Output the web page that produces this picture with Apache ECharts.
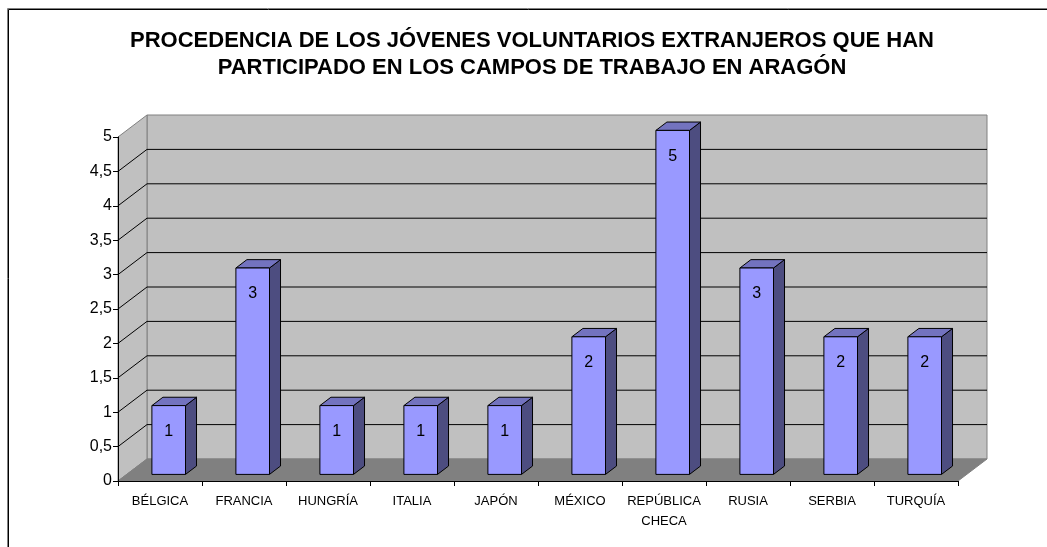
<!DOCTYPE html>
<html>
<head>
<meta charset="utf-8">
<script src="https://cdn.jsdelivr.net/npm/echarts@6/dist/echarts.min.js"></script>
<style>
  html, body { margin: 0; padding: 0; background: #fff; }
  #chart { width: 1047px; height: 547px; }
</style>
</head>
<body>
<div id="chart"></div>
<script>
// datos del gráfico
const categories = ['BÉLGICA', 'FRANCIA', 'HUNGRÍA', 'ITALIA', 'JAPÓN', 'MÉXICO', 'REPÚBLICA\nCHECA', 'RUSIA', 'SERBIA', 'TURQUÍA'];
const values = [1, 3, 1, 1, 1, 2, 5, 3, 2, 2];
const yTicks = [0, 0.5, 1, 1.5, 2, 2.5, 3, 3.5, 4, 4.5, 5];
const titleLines = ['PROCEDENCIA DE LOS JÓVENES VOLUNTARIOS EXTRANJEROS QUE HAN', 'PARTICIPADO EN LOS CAMPOS DE TRABAJO EN ARAGÓN'];

// profundidad del efecto 3D (px)
const DX = 29;
const DY = -22;
const T0 = 0.3;   // cara frontal de la barra
const T1 = 0.68;  // cara trasera
const FONT = 'Arial, "Liberation Sans", sans-serif';

const chart = echarts.init(document.getElementById('chart'));

// paredes, suelo y líneas de división
function renderWalls(params, api) {
  const n = categories.length;
  const bw = api.size([1, 0])[0];
  const left = api.coord([0, 0])[0] - bw / 2;
  const right = api.coord([n - 1, 0])[0] + bw / 2;
  const y0 = api.coord([0, yTicks[0]])[1];
  const yTop = api.coord([0, yTicks[yTicks.length - 1]])[1];
  const children = [];
  // pared trasera
  children.push({
    type: 'polygon',
    shape: { points: [[left + DX, yTop + DY], [right + DX, yTop + DY], [right + DX, y0 + DY], [left + DX, y0 + DY]] },
    style: { fill: '#c0c0c0', stroke: '#808080', lineWidth: 1 }
  });
  // pared lateral
  children.push({
    type: 'polygon',
    shape: { points: [[left, yTop], [left + DX, yTop + DY], [left + DX, y0 + DY], [left, y0]] },
    style: { fill: '#c0c0c0', stroke: '#808080', lineWidth: 1 }
  });
  // suelo
  children.push({
    type: 'polygon',
    shape: { points: [[left, y0], [right, y0], [right + DX, y0 + DY], [left + DX, y0 + DY]] },
    style: { fill: '#808080', stroke: '#808080', lineWidth: 1 }
  });
  for (let i = 1; i < yTicks.length - 1; i++) {
    const y = api.coord([0, yTicks[i]])[1];
    children.push({
      type: 'polyline',
      shape: { points: [[left, y], [left + DX, y + DY], [right + DX, y + DY]] },
      style: { stroke: '#000', lineWidth: 1, fill: null }
    });
  }
  return { type: 'group', children: children };
}

// barras 3D
function renderBar(params, api) {
  const idx = api.value(0);
  const base = api.coord([idx, 0]);
  const top = api.coord([idx, api.value(1)]);
  const bw = api.size([1, 0])[0];
  const half = bw * 0.2;
  const fx = DX * T0, fy = DY * T0;
  const ddx = DX * (T1 - T0), ddy = DY * (T1 - T0);
  const x0 = base[0] - half + fx;
  const x1 = base[0] + half + fx;
  const yb = base[1] + fy;
  const yt = top[1] + fy;
  return {
    type: 'group',
    children: [
      {
        type: 'polygon',
        shape: { points: [[x1, yt], [x1 + ddx, yt + ddy], [x1 + ddx, yb + ddy], [x1, yb]] },
        style: { fill: '#4d4d80', stroke: '#000', lineWidth: 1 }
      },
      {
        type: 'polygon',
        shape: { points: [[x0, yt], [x1, yt], [x1 + ddx, yt + ddy], [x0 + ddx, yt + ddy]] },
        style: { fill: '#7373bf', stroke: '#000', lineWidth: 1 }
      },
      {
        type: 'rect',
        shape: { x: x0, y: yt, width: x1 - x0, height: yb - yt },
        style: { fill: '#9999ff', stroke: '#000', lineWidth: 1 }
      },
      {
        type: 'text',
        x: (x0 + x1) / 2,
        y: yt + 26,
        style: {
          text: String(api.value(1)),
          fill: '#000',
          font: '16px ' + FONT,
          align: 'center',
          verticalAlign: 'middle'
        }
      }
    ]
  };
}

const option = {
  backgroundColor: '#fff',
  animation: false,
  title: {
    text: titleLines.join('\n'),
    left: 532,
    top: 27,
    padding: 0,
    textAlign: 'center',
    textStyle: {
      fontFamily: FONT,
      fontWeight: 'bold',
      fontSize: 22,
      lineHeight: 27,
      color: '#000'
    }
  },
  graphic: [
    {
      type: 'rect',
      shape: { x: 7.5, y: 8.5, width: 1100, height: 600 },
      style: { fill: null, stroke: '#808080', lineWidth: 1 },
      z: 100
    },
    {
      type: 'rect',
      shape: { x: 8.5, y: 9.5, width: 1100, height: 600 },
      style: { fill: null, stroke: '#000', lineWidth: 1 },
      z: 100
    }
  ],
  grid: {
    left: 118,
    right: 89,
    top: 137,
    bottom: 66
  },
  xAxis: {
    type: 'category',
    data: categories,
    boundaryGap: true,
    axisLine: { show: true, lineStyle: { color: '#000', width: 1 } },
    axisTick: { show: true, interval: 0, length: 5, alignWithLabel: false, lineStyle: { color: '#000' } },
    axisLabel: {
      interval: 0,
      margin: 10,
      color: '#000',
      fontFamily: FONT,
      fontSize: 13,
      lineHeight: 20
    },
    splitLine: { show: false },
    z: 10
  },
  yAxis: {
    type: 'value',
    min: yTicks[0],
    max: yTicks[yTicks.length - 1],
    interval: 0.5,
    axisLine: { show: true, lineStyle: { color: '#000', width: 1 } },
    axisTick: { show: true, length: 5, lineStyle: { color: '#000' } },
    axisLabel: {
      margin: 6,
      color: '#000',
      fontFamily: FONT,
      fontSize: 16,
      formatter: function (v) { return String(v).replace('.', ','); }
    },
    splitLine: { show: false },
    z: 10
  },
  series: [
    {
      type: 'custom',
      renderItem: renderWalls,
      data: [[0, 0]],
      silent: true,
      z: 1
    },
    {
      type: 'custom',
      renderItem: renderBar,
      data: values.map(function (v, i) { return [i, v]; }),
      z: 5
    }
  ]
};

chart.setOption(option);
</script>
</body>
</html>
